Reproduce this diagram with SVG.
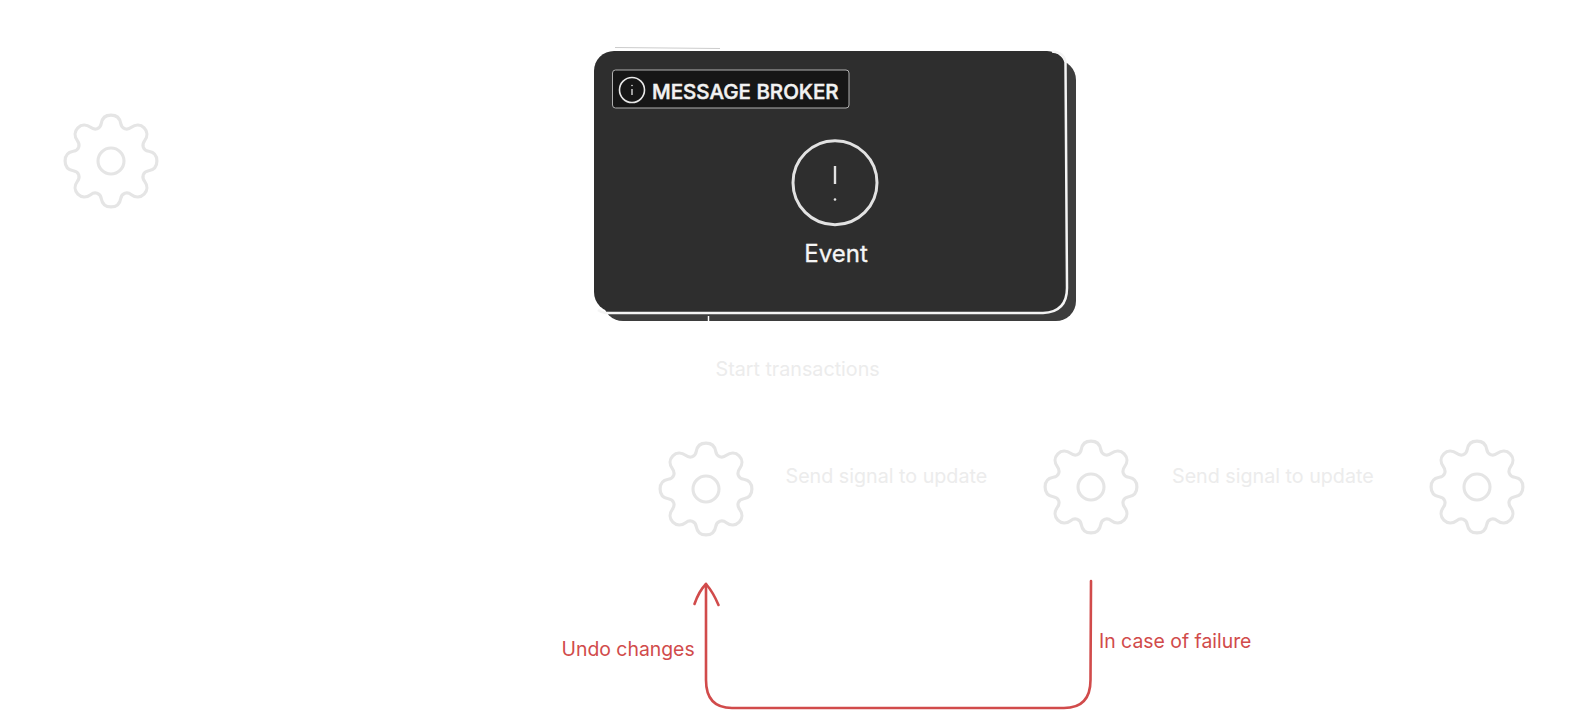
<svg xmlns="http://www.w3.org/2000/svg" width="1576" height="727" viewBox="0 0 1576 727">
<style>
text{font-family:Inter,"Liberation Sans",sans-serif}
.gear{fill:none;stroke:#e5e5e5;stroke-width:3.1}
.faint{font-size:19.7px;fill:#ececec}
.red{font-size:19.4px;fill:#d14b4b}
.redline{fill:none;stroke:#d14b4b;stroke-width:2.6;stroke-linecap:round;stroke-linejoin:round}
</style>
<defs>
<g id="gear" class="gear">
<circle r="13"/>
<path transform="scale(1.02)" d="M0,-45C7,-45 9,-40 9.5,-37C10.5,-31 16,-30 20,-33C24,-36 29,-36 32.5,-32.5C36,-29 36,-24 33,-20C30,-16 31,-10.5 37,-9.5C40,-9 45,-7 45,0C45,7 40,9 37,9.5C31,10.5 30,16 33,20C36,24 36,29 32.5,32.5C29,36 24,36 20,33C16,30 10.5,31 9.5,37C9,40 7,45 0,45C-7,45 -9,40 -9.5,37C-10.5,31 -16,30 -20,33C-24,36 -29,36 -32.5,32.5C-36,29 -36,24 -33,20C-30,16 -31,10.5 -37,9.5C-40,9 -45,7 -45,0C-45,-7 -40,-9 -37,-9.5C-31,-10.5 -30,-16 -33,-20C-36,-24 -36,-29 -32.5,-32.5C-29,-36 -24,-36 -20,-33C-16,-30 -10.5,-31 -9.5,-37C-9,-40 -7,-45 0,-45Z"/>
</g>
</defs>
<rect width="1576" height="727" fill="#ffffff"/>
<g id="gear-left"><use href="#gear" x="111" y="161"/></g>
<g id="gear-2"><use href="#gear" x="706" y="489"/></g>
<g id="gear-3"><use href="#gear" x="1091" y="487"/></g>
<g id="gear-4"><use href="#gear" x="1477" y="487"/></g>
<g id="message-broker">
<path d="M615,47.500L720,48.500" stroke="#cccccc" stroke-width="1" fill="none"/>
<rect x="603" y="60" width="473" height="261" rx="20" fill="#3d3d3d"/>
<rect x="594" y="51" width="473" height="261" rx="20" fill="#2e2e2e"/>
<path d="M1052,51.500Q1064,52 1065.500,62L1067,288Q1067,312 1043,313L606,313Q601,312.500 598,310" fill="none" stroke="#f4f4f4" stroke-width="2.500"/>
<rect x="612.500" y="70" width="236.500" height="38" rx="3" fill="#161616" stroke="#b0b0b0" stroke-width="1"/>
<circle cx="632" cy="90" r="12.500" fill="none" stroke="#e8e8e8" stroke-width="1.600"/>
<path d="M632,89V95" stroke="#e8e8e8" stroke-width="1.300"/>
<circle cx="632" cy="85.500" r="0.800" fill="#e8e8e8"/>
<text x="652" y="98.500" font-size="20.500" font-weight="500" fill="#f2f2f2" stroke="#f2f2f2" stroke-width="0.500">MESSAGE BROKER</text>
<circle cx="835" cy="182.700" r="42" fill="none" stroke="#e2e2e2" stroke-width="3"/>
<path d="M835,166V184" stroke="#e2e2e2" stroke-width="2.400"/>
<circle cx="835" cy="199.500" r="1.300" fill="#e2e2e2"/>
<text x="836" y="262" font-size="24" text-anchor="middle" fill="#f5f5f5" stroke="#f5f5f5" stroke-width="0.300">Event</text>
</g>
<g id="connectors">
<path class="redline" d="M1091,581L1090.500,680Q1090.500,708 1064,708L732,708Q706,708 706,680L706,584"/>
<path class="redline" d="M694.500,604Q699,591 706,584Q713,592 718.500,605"/>
<path d="M708.500,316V321" stroke="#ffffff" stroke-width="1.500"/>
</g>
<g id="labels">
<text class="faint" x="715.500" y="375.500">Start transactions</text>
<text class="faint" x="785.500" y="482.500">Send signal to update</text>
<text class="faint" x="1172" y="482.500">Send signal to update</text>
<text class="red" x="561.500" y="656">Undo changes</text>
<text class="red" x="1099" y="648">In case of failure</text>
</g>
</svg>
